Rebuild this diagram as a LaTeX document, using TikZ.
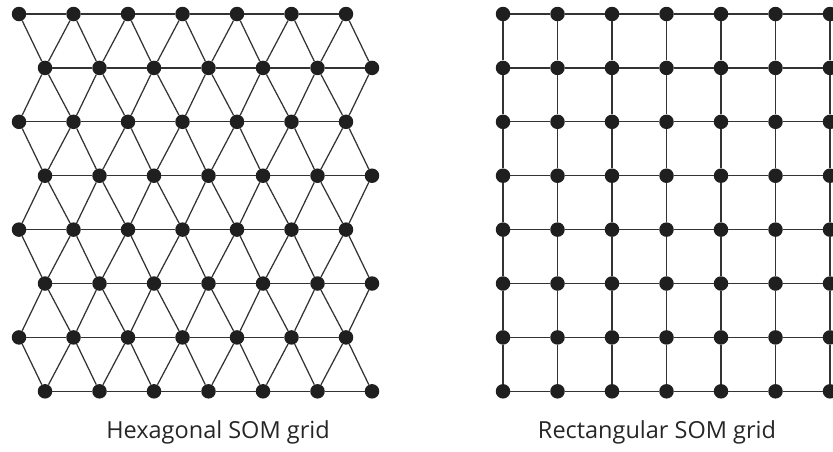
\documentclass[tikz,border=0pt]{standalone}
\usepackage{fontspec}
\setmainfont{Open Sans}
\tikzset{
  som node/.style={
    circle, fill=black!88, inner sep=0pt, minimum size=14.5pt
  },
  som link/.style={
    draw=black!80, line width=1.25pt
  },
  som label/.style={
    font=\fontsize{23.5}{28}\selectfont, text=black!85, inner sep=0pt
  }
}

\begin{document}
\begin{tikzpicture}[x=1pt, y=-1pt]
  \useasboundingbox (0,0) rectangle (833,451);

  % hexagonal grid
  \foreach \r in {0,...,7} {
    \pgfmathsetmacro{\off}{19+26*mod(\r,2)}
    \foreach \c in {0,...,6}
      \node (h-\r-\c) [som node] at ({\off+54.5*\c}, {14+53.9*\r}) {};
  }
  \foreach \r in {0,...,7} {
    \foreach \c [count=\n from 1] in {0,...,5} {
      \draw [som link] (h-\r-\c) -- (h-\r-\n);
    }
  }
  \foreach \r in {0,2,4,6} {
    \pgfmathtruncatemacro{\rr}{\r+1}
    \foreach \c in {0,...,6} {
      \draw [som link] (h-\r-\c) -- (h-\rr-\c);
    }
    \foreach \c [count=\p from 0] in {1,...,6} {
      \draw [som link] (h-\r-\c) -- (h-\rr-\p);
    }
  }
  \foreach \r in {1,3,5} {
    \pgfmathtruncatemacro{\rr}{\r+1}
    \foreach \c in {0,...,6} {
      \draw [som link] (h-\r-\c) -- (h-\rr-\c);
    }
    \foreach \c [count=\n from 1] in {0,...,5} {
      \draw [som link] (h-\r-\c) -- (h-\rr-\n);
    }
  }

  % rectangular grid
  \foreach \r in {0,...,7} {
    \foreach \c in {0,...,6}
      \node (q-\r-\c) [som node] at ({503+54.5*\c}, {14+53.9*\r}) {};
  }
  \foreach \r in {0,...,7} {
    \foreach \c [count=\n from 1] in {0,...,5} {
      \draw [som link] (q-\r-\c) -- (q-\r-\n);
    }
  }
  \foreach \r [count=\rr from 1] in {0,...,6} {
    \foreach \c in {0,...,6} {
      \draw [som link] (q-\r-\c) -- (q-\rr-\c);
    }
  }

  \node (hex label) [som label] at (218,432) {Hexagonal SOM grid};
  \node (rect label) [som label] at (657,432) {Rectangular SOM grid};
\end{tikzpicture}
\end{document}
